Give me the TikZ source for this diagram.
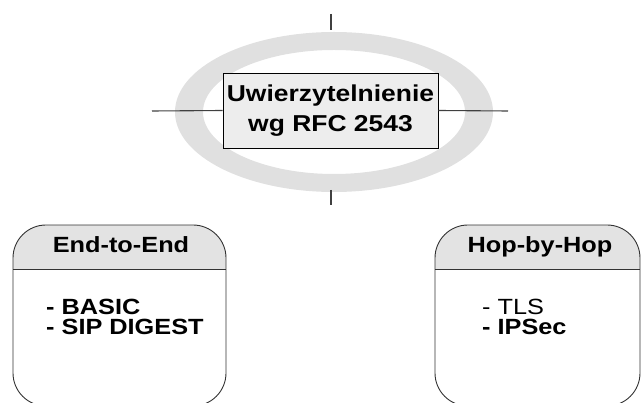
\documentclass[tikz,border=0pt]{standalone}
\usepackage{fontspec}
\setmainfont{Liberation Sans}[FakeStretch=1.15]
\definecolor{ringgray}{gray}{0.88}
\definecolor{boxgray}{gray}{0.93}
\definecolor{headgray}{gray}{0.89}
\definecolor{linegray}{gray}{0.25}

\begin{document}
\begin{tikzpicture}[x=1pt, y=-1pt]
	\useasboundingbox (0,0) rectangle (641,403);
	\begin{scope}
	\tikzstyle{every node}=[align=center, inner sep=1pt]
	\tikzstyle{cross}=[draw=linegray, line width=1.1pt]
	\tikzstyle{panel}=[draw=black!80, line width=0.9pt, rounded corners=33pt]
	\tikzstyle{headtxt}=[font=\fontsize{22}{24}\selectfont\bfseries, anchor=base]
	\tikzstyle{itemtxt}=[font=\fontsize{22}{20}\selectfont, anchor=base west,
		inner sep=0pt, text height=16pt, text depth=2pt]

		% grey ring behind the title
		\fill[ringgray, even odd rule] (334,112) ellipse [x radius=159, y radius=80]
			(334,112) ellipse [x radius=131, y radius=62];

		\node[draw=black, line width=0.8pt, fill=boxgray, minimum width=215pt, minimum height=75pt,
			font=\fontsize{23}{30}\selectfont\bfseries] (main) at (330.5,110.5)
			{Uwierzytelnienie\\wg RFC 2543};

		\coordinate (crossW) at (152,111);
		\coordinate (crossE) at (508,111);
		\coordinate (crossN1) at (331,14);
		\coordinate (crossN2) at (331,30);
		\coordinate (crossS1) at (331,190);
		\coordinate (crossS2) at (331,205);
		\draw[cross] (crossW) -- (main.west);
		\draw[cross] (main.east) -- (crossE);
		\draw[cross] (crossN1) -- (crossN2);
		\draw[cross] (crossS1) -- (crossS2);

		% the two panels, cut off at the bottom edge
		\begin{scope}
			\clip (0,0) rectangle (641,403);
			\begin{scope}
				\clip[rounded corners=33pt] (13,406) rectangle (226,225);
				\fill[headgray] (13,225) rectangle (226,269);
			\end{scope}
			\begin{scope}
				\clip[rounded corners=33pt] (435,406) rectangle (640,225);
				\fill[headgray] (435,225) rectangle (640,269);
			\end{scope}
			\draw[panel] (13,406) rectangle (226,225);
			\draw[panel] (435,406) rectangle (640,225);
			\draw[draw=black!80, line width=0.9pt] (13,269) -- (226,269);
			\draw[draw=black!80, line width=0.9pt] (435,269) -- (640,269);
		\end{scope}

		\node[headtxt] (e2e) at (121,253) {End-to-End};
		\node[headtxt] (hbh) at (540,253) {Hop-by-Hop};

		\node[itemtxt, font=\fontsize{22}{20}\selectfont\bfseries] (basic) at (46,315) {- BASIC};
		\node[itemtxt, font=\fontsize{22}{20}\selectfont\bfseries] (digest) at (46,335) {- SIP DIGEST};
		\node[itemtxt] (tls) at (482,315) {- TLS};
		\node[itemtxt, font=\fontsize{22}{20}\selectfont\bfseries] (ipsec) at (482,335) {- IPSec};
	\end{scope}
\end{tikzpicture}
\end{document}
